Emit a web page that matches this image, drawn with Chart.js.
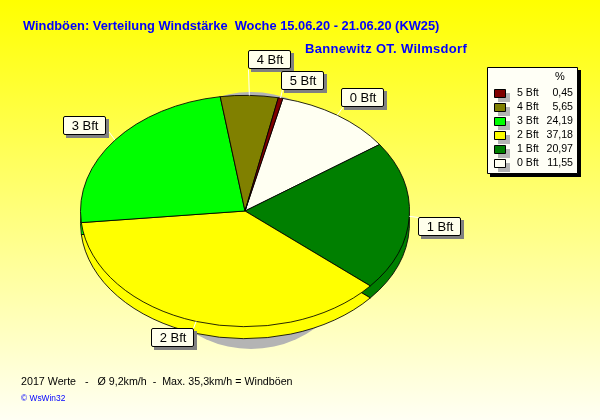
<!DOCTYPE html>
<html><head><meta charset="utf-8">
<script src="https://cdn.jsdelivr.net/npm/chart.js@4"></script>
<style>html,body{margin:0;padding:0;background:#fff}
#w{position:relative;width:600px;height:420px}
canvas{display:block}</style></head>
<body><div id="w"><canvas id="c" width="600" height="420"></canvas></div>
<script>
const categories=['0 Bft','1 Bft','2 Bft','3 Bft','4 Bft','5 Bft'];
const shares=[11.55,20.97,37.18,24.19,5.65,0.45];
const sliceColors=['#fffff2','#007f00','#ffff00','#00ff00','#808000','#800000'];
const titleText='Windböen: Verteilung Windstärke  Woche 15.06.20 - 21.06.20 (KW25)';
const subtitleText='Bannewitz OT. Wilmsdorf';
const footerText='2017 Werte   -   Ø 9,2km/h  -  Max. 35,3km/h = Windböen';
const creditText='© WsWin32';
const decimalShares=['11,55','20,97','37,18','24,19','5,65','0,45'];
const labelBoxes=[[341,88],[418,217],[151,328],[63,116],[248,50],[281,71]];
const labelAnchors=[[343,106],[418,217],[193,328],[106,128],[248,69],[282,89]];

const SQUASH=116/165, DEPTH=12;
const FONT='"Liberation Sans",Arial,sans-serif';
function squashed(ctx,arc,dy,fn){
  ctx.save();ctx.translate(arc.x,arc.y+dy);ctx.scale(1,SQUASH);ctx.translate(-arc.x,-arc.y);fn();ctx.restore();
}
function box(ctx,x,y,w,h,fill,shadow,off,r){
  ctx.fillStyle=shadow;ctx.fillRect(x+off,y+off,w,h);
  ctx.fillStyle=fill;ctx.strokeStyle='#000';ctx.lineWidth=1;
  ctx.beginPath();ctx.roundRect(x+.5,y+.5,w-1,h-1,r||0);ctx.fill();ctx.stroke();
}
const pie3d={id:'pie3d',
  beforeDraw(chart){
    const {ctx,width,height}=chart;
    const g=ctx.createLinearGradient(0,0,0,height);
    g.addColorStop(0,'#ffff00');g.addColorStop(1,'#fffff4');
    ctx.fillStyle=g;ctx.fillRect(0,0,width,height);
  },
  beforeDatasetDraw(chart){
    const ctx=chart.ctx,arcs=chart.getDatasetMeta(0).data,a0=arcs[0];
    ctx.save();ctx.fillStyle='#b4b4b4';
    ctx.beginPath();ctx.ellipse(a0.x+6,a0.y+9.5,118,128.5,0,0,Math.PI*2);ctx.fill();ctx.restore();
    squashed(ctx,a0,DEPTH,()=>arcs.forEach(a=>a.draw(ctx)));
    ctx.save();ctx.translate(a0.x,a0.y);ctx.scale(1,SQUASH);ctx.translate(-a0.x,-a0.y);
  },
  afterDatasetDraw(chart){
    const {ctx}=chart;ctx.restore();
    const arcs=chart.getDatasetMeta(0).data;
    ctx.textBaseline='middle';
    ctx.textAlign='left';
    categories.forEach((c,i)=>{
      const a=arcs[i],m=(a.startAngle+a.endAngle)/2;
      const px=a.x+Math.cos(m)*a.outerRadius,py=a.y+Math.sin(m)*a.outerRadius*SQUASH;
      ctx.strokeStyle='#fff';ctx.lineWidth=1;
      ctx.beginPath();ctx.moveTo(px,py);ctx.lineTo(labelAnchors[i][0]+.5,labelAnchors[i][1]+.5);ctx.stroke();
    });
    ctx.font='13px '+FONT;
    categories.forEach((c,i)=>{
      const [x,y]=labelBoxes[i];
      box(ctx,x,y,43,19,'#ffffec','#808080',3,1.5);
      ctx.fillStyle='#000';ctx.textAlign='center';
      ctx.fillText(c,x+22,y+10);
    });
    // legend
    box(ctx,487,67,91,107,'#fffff6','#000',3);
    ctx.font='11px '+FONT;
    ctx.fillStyle='#000';ctx.textAlign='center';ctx.fillText('%',560,77);
    ctx.font='10.6px '+FONT;
    categories.forEach((c,k)=>{
      const i=categories.length-1-k,y=93+k*14;
      box(ctx,494,y-4,12,9,sliceColors[i],'#b4b4b4',4);
      ctx.fillStyle='#000';ctx.textAlign='left';ctx.fillText(categories[i],517,y);
      ctx.textAlign='right';ctx.fillText(decimalShares[i],573,y);
    });
    // texts
    ctx.textAlign='left';ctx.fillStyle='#0000ff';ctx.font='bold 12.85px '+FONT;
    ctx.fillText(titleText,23,26);
    ctx.letterSpacing='0.3px';ctx.font='bold 13px '+FONT;
    ctx.fillText(subtitleText,305,49);
    ctx.letterSpacing='0px';
    ctx.fillStyle='#000';ctx.font='10.7px '+FONT;
    ctx.fillText(footerText,21,382);
    ctx.fillStyle='#0000ff';ctx.font='8.4px '+FONT;
    ctx.fillText(creditText,21,399);
  }
};
new Chart(document.getElementById('c'),{
  type:'pie',
  data:{labels:categories,datasets:[{data:shares,backgroundColor:sliceColors,borderColor:'#000',borderWidth:1,borderAlign:'center'}]},
  options:{responsive:false,animation:false,rotation:13.3,
    layout:{padding:{left:80,right:190,top:46,bottom:44}},
    plugins:{legend:{display:false},title:{display:false},tooltip:{enabled:false}},
    events:[]},
  plugins:[pie3d]
});
</script></body></html>
